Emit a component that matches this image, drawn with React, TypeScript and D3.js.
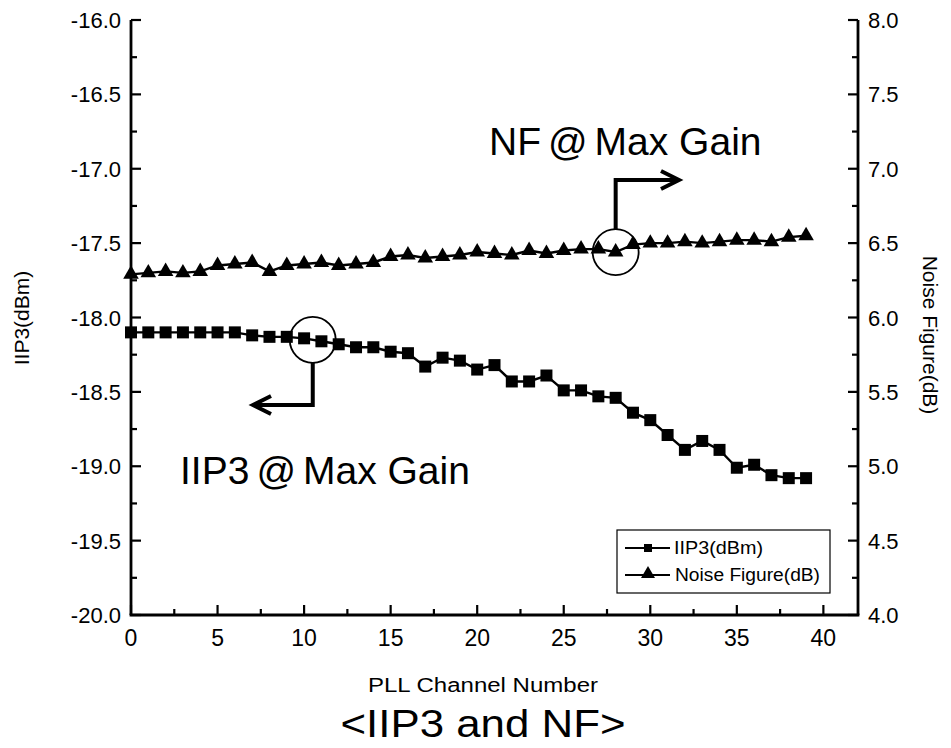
import React from 'react';
import * as d3 from 'd3';

const channels = [0,1,2,3,4,5,6,7,8,9,10,11,12,13,14,15,16,17,18,19,20,21,22,23,24,25,26,27,28,29,30,31,32,33,34,35,36,37,38,39];
const iip3 = [-18.10,-18.10,-18.10,-18.10,-18.10,-18.10,-18.10,-18.12,-18.13,-18.13,-18.14,-18.16,-18.18,-18.20,-18.20,-18.23,-18.24,-18.33,-18.27,-18.29,-18.35,-18.32,-18.43,-18.43,-18.39,-18.49,-18.49,-18.53,-18.54,-18.64,-18.69,-18.79,-18.89,-18.83,-18.89,-19.01,-18.99,-19.06,-19.08,-19.08];
const nf = [6.29,6.30,6.31,6.30,6.31,6.35,6.36,6.37,6.31,6.35,6.36,6.37,6.35,6.36,6.37,6.41,6.42,6.40,6.41,6.42,6.44,6.43,6.42,6.45,6.43,6.45,6.46,6.46,6.44,6.49,6.50,6.50,6.51,6.50,6.51,6.52,6.52,6.51,6.54,6.55];

const xMajor = [0,5,10,15,20,25,30,35,40];
const xMinor = [2.5,7.5,12.5,17.5,22.5,27.5,32.5,37.5];
const yLeftMajor = [-20,-19.5,-19,-18.5,-18,-17.5,-17,-16.5,-16];
const yLeftMinor = [-19.75,-19.25,-18.75,-18.25,-17.75,-17.25,-16.75,-16.25];
const yRightMajor = [4,4.5,5,5.5,6,6.5,7,7.5,8];
const yRightMinor = [4.25,4.75,5.25,5.75,6.25,6.75,7.25,7.75];

const FONT = "'Liberation Sans', Arial, sans-serif";

export default function App() {
  const L = 131, R = 858, T = 20, B = 615;
  const x = d3.scaleLinear().domain([0, 42]).range([L, R]);
  const yL = d3.scaleLinear().domain([-20, -16]).range([B, T]);
  const yR = d3.scaleLinear().domain([4, 8]).range([B, T]);

  const lineL = d3.line<number>().x((_, i) => x(channels[i])).y(d => yL(d));
  const lineR = d3.line<number>().x((_, i) => x(channels[i])).y(d => yR(d));
  const tri = d3.symbol(d3.symbolTriangle, 105)();
  const triLeg = d3.symbol(d3.symbolTriangle, 85)();

  const majLen = 10, minLen = 6;

  const c1x = x(10.5), c1y = yL((iip3[10] + iip3[11]) / 2);
  const c2x = x(28), c2y = yR(nf[28]);
  const r = 23;

  return (
    <svg width={951} height={748} style={{ position: 'absolute', left: 0, top: 0, background: '#fff' }} fontFamily={FONT}>
      <rect x={0} y={0} width={951} height={748} fill="#fff" />
      <line x1={L} y1={T} x2={L} y2={B} stroke="#000" strokeWidth={2.8} />
      <line x1={R} y1={T} x2={R} y2={B} stroke="#000" strokeWidth={2.8} />
      <line x1={L - 1.4} y1={B} x2={R + 1.4} y2={B} stroke="#000" strokeWidth={2.8} />

      {xMajor.map(v => (
        <g key={'xm' + v}>
          <line x1={x(v)} x2={x(v)} y1={B} y2={B - majLen} stroke="#000" strokeWidth={2.2} />
          <text x={x(v)} y={646} textAnchor="middle" fontSize={23}>{v}</text>
        </g>
      ))}
      {xMinor.map(v => (
        <line key={'xn' + v} x1={x(v)} x2={x(v)} y1={B} y2={B - minLen} stroke="#000" strokeWidth={2.2} />
      ))}

      {yLeftMajor.map(v => (
        <g key={'ylm' + v}>
          <line x1={L} x2={L + majLen} y1={yL(v)} y2={yL(v)} stroke="#000" strokeWidth={2.2} />
          <text x={121} y={yL(v) + 8} textAnchor="end" fontSize={22}>{v.toFixed(1)}</text>
        </g>
      ))}
      {yLeftMinor.map(v => (
        <line key={'yln' + v} x1={L} x2={L + minLen} y1={yL(v)} y2={yL(v)} stroke="#000" strokeWidth={2.2} />
      ))}

      {yRightMajor.map(v => (
        <g key={'yrm' + v}>
          <line x1={R} x2={R - majLen} y1={yR(v)} y2={yR(v)} stroke="#000" strokeWidth={2.2} />
          <text x={868} y={yR(v) + 8} textAnchor="start" fontSize={22}>{v.toFixed(1)}</text>
        </g>
      ))}
      {yRightMinor.map(v => (
        <line key={'yrn' + v} x1={R} x2={R - minLen} y1={yR(v)} y2={yR(v)} stroke="#000" strokeWidth={2.2} />
      ))}

      <text transform={`translate(29,318) rotate(-90)`} textAnchor="middle" fontSize={21}>IIP3(dBm)</text>
      <text transform={`translate(923,335) rotate(90)`} textAnchor="middle" fontSize={21}>Noise Figure(dB)</text>
      <text x={483} y={692} textAnchor="middle" fontSize={20} textLength={230} lengthAdjust="spacingAndGlyphs">PLL Channel Number</text>
      <text x={483} y={737} textAnchor="middle" fontSize={38} textLength={285} lengthAdjust="spacingAndGlyphs">&lt;IIP3 and NF&gt;</text>

      <path d={lineL(iip3) || ''} fill="none" stroke="#000" strokeWidth={2.4} />
      {iip3.map((v, i) => (
        <rect key={'s' + i} x={x(channels[i]) - 6} y={yL(v) - 6} width={12} height={12} fill="#000" />
      ))}
      <path d={lineR(nf) || ''} fill="none" stroke="#000" strokeWidth={2.4} />
      {nf.map((v, i) => (
        <path key={'t' + i} d={tri || ''} transform={`translate(${x(channels[i])},${yR(v)})`} fill="#000" />
      ))}

      <circle cx={c1x} cy={c1y} r={r} fill="none" stroke="#000" strokeWidth={1.8} />
      <path d={`M${c1x},${c1y + r} V405 H254`} fill="none" stroke="#000" strokeWidth={4} />
      <path d={`M271,396 L253,405 L271,414`} fill="none" stroke="#000" strokeWidth={4} />
      <text x={180} y={484} fontSize={39}>IIP3<tspan dx={7}>@</tspan><tspan dx={7}>Max Gain</tspan></text>

      <circle cx={c2x} cy={c2y} r={r} fill="none" stroke="#000" strokeWidth={1.8} />
      <path d={`M${c2x},${c2y - r} V180 H678`} fill="none" stroke="#000" strokeWidth={4} />
      <path d={`M661,171 L679,180 L661,189`} fill="none" stroke="#000" strokeWidth={4} />
      <text x={489} y={155} fontSize={39}>NF<tspan dx={7}>@</tspan><tspan dx={7}>Max Gain</tspan></text>

      <rect x={617} y={530} width={213} height={63} fill="#fff" stroke="#000" strokeWidth={1.2} />
      <line x1={625} x2={670} y1={548} y2={548} stroke="#000" strokeWidth={2} />
      <rect x={644} y={544} width={8} height={8} fill="#000" />
      <text x={674} y={554} fontSize={18} textLength={89} lengthAdjust="spacingAndGlyphs">IIP3(dBm)</text>
      <line x1={625} x2={670} y1={575} y2={575} stroke="#000" strokeWidth={2} />
      <path d={triLeg || ''} transform="translate(648,574)" fill="#000" />
      <text x={675} y={581} fontSize={18} textLength={145} lengthAdjust="spacingAndGlyphs">Noise Figure(dB)</text>
    </svg>
  );
}
